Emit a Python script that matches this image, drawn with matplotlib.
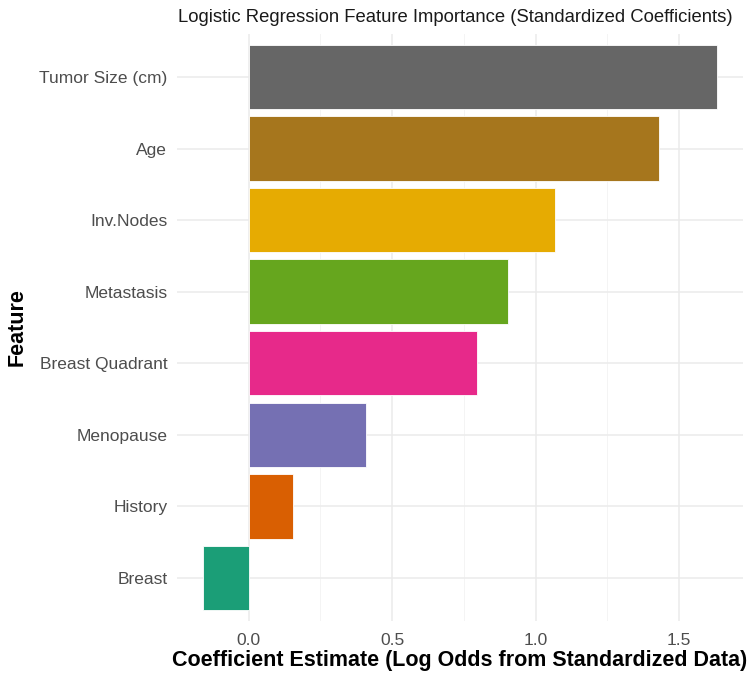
import matplotlib
matplotlib.use("Agg")
import matplotlib.pyplot as plt
from matplotlib.ticker import MultipleLocator

features = ["Breast", "History", "Menopause", "Breast Quadrant", "Metastasis",
            "Inv.Nodes", "Age", "Tumor Size (cm)"]
coefs = [-0.16, 0.155, 0.41, 0.796, 0.904, 1.069, 1.431, 1.633]
colors = ["#1B9E77", "#D95F02", "#7570B3", "#E7298A", "#66A61E",
          "#E6AB02", "#A6761D", "#666666"]
xticks = [0.0, 0.5, 1.0, 1.5]

plt.rcParams["font.family"] = ["Liberation Sans", "DejaVu Sans"]

fig = plt.figure(figsize=(7.5, 6.8), dpi=100)
ax = fig.add_axes([0.236, 0.0868, 0.7547, 0.8632])

ypos = list(range(len(features)))
ax.barh(ypos, coefs, height=0.9, color=colors, edgecolor="white", linewidth=0.6, zorder=3)

lo, hi = min(coefs + [0]), max(coefs)
pad = (hi - lo) * 0.05
ax.set_xlim(lo - pad, hi + pad)
ax.set_ylim(-0.6, len(features) - 1 + 0.6)

ax.set_xticks(xticks)
ax.set_xticklabels([f"{t:.1f}" for t in xticks])
ax.xaxis.set_minor_locator(MultipleLocator(0.25))
ax.set_yticks(ypos)
ax.set_yticklabels(features)

ax.grid(True, which="major", color="#EBEBEB", linewidth=1.1, zorder=0)
ax.grid(True, which="minor", axis="x", color="#F2F2F2", linewidth=0.6, zorder=0)
ax.tick_params(which="both", length=0, labelsize=12.5, labelcolor="#4D4D4D")
ax.tick_params(axis="x", pad=9)
ax.tick_params(axis="y", pad=7)
for s in ax.spines.values():
    s.set_visible(False)

ax.set_xlabel("Coefficient Estimate (Log Odds from Standardized Data)",
              fontsize=15.5, fontweight="bold", labelpad=1)
ax.set_ylabel("Feature", fontsize=15.5, fontweight="bold", labelpad=8)

fig.text(0.237, 0.975, "Logistic Regression Feature Importance (Standardized Coefficients)",
         fontsize=13.3, ha="left", va="center", color="#1A1A1A")

fig.savefig("out.png", dpi=100)
